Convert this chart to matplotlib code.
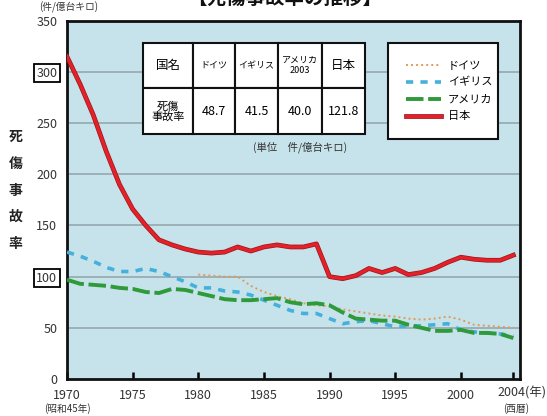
import matplotlib
matplotlib.use("Agg")
import matplotlib.pyplot as plt
import matplotlib.patheffects as pe
import matplotlib.transforms as mtransforms

plt.rcParams['font.family'] = ['Noto Sans CJK JP', 'DejaVu Sans']

# --- data (件/億台キロ) ---
years = list(range(1970, 2005))
japan = [315, 288, 258, 222, 190, 166, 150, 136, 131, 127,
         124, 123, 124, 129, 125, 129, 131, 129, 129, 132,
         100, 98, 101, 108, 104, 108, 102, 104, 108, 114,
         119, 117, 116, 116, 121]
uk = [124, 120, 115, 109, 105, 105, 108, 105, 100, 95,
      89, 89, 86, 85, 82, 77, 72, 67, 64, 64,
      59, 54, 56, 57, 54, 51, 52, 52, 53, 54,
      48, 46, 45, 44, 42]
usa = [97, 93, 92, 91, 89, 88, 85, 84, 88, 87,
       84, 81, 78, 77, 77, 78, 79, 75, 73, 74,
       72, 65, 59, 58, 57, 57, 53, 50, 47, 47,
       48, 45, 45, 44, 40]
germany_years = list(range(1980, 2005))
germany = [102, 101, 100, 100, 91, 85, 81, 78, 74, 72,
           71, 68, 66, 64, 62, 61, 59, 58, 59, 61,
           58, 53, 52, 51, 50]

table_cols = ['国名', 'ドイツ', 'イギリス', 'アメリカ\n2003', '日本']
table_vals = ['死傷\n事故率', '48.7', '41.5', '40.0', '121.8']
legend_labels = ['ドイツ', 'イギリス', 'アメリカ', '日本']

fig = plt.figure(figsize=(5.47, 4.16), dpi=100)
ax = fig.add_axes([0.1225, 0.089, 0.828, 0.861])
ax.set_facecolor('#c6e3eb')

# gridlines
for v in range(50, 350, 50):
    ax.axhline(v, color='#95a9ae', lw=1.2, zorder=1)

l_de, = ax.plot(germany_years, germany, color='#e39a55', lw=1.4,
                linestyle=(0, (1, 1.6)), zorder=3)
l_uk, = ax.plot(years, uk, color='#45b0dc', lw=2.6,
                linestyle=(0, (2, 2)), zorder=3)
l_us, = ax.plot(years, usa, color='#2f9a3a', lw=2.8,
                linestyle=(0, (4.5, 1.2)), zorder=4)
l_jp, = ax.plot(years, japan, color='#e4202a', lw=2.4, zorder=5,
                path_effects=[pe.Stroke(linewidth=3.4, foreground='#9a1818'), pe.Normal()])

ax.set_xlim(1970, 2004.5)
ax.set_ylim(0, 350)

for s in ax.spines.values():
    s.set_linewidth(2)
    s.set_color('#111111')

ax.set_yticks(range(0, 351, 50))
ax.set_yticklabels([str(v) for v in range(0, 351, 50)])
ax.tick_params(axis='y', length=0, pad=7, labelsize=9, labelcolor='#333333')
for lab in ax.get_yticklabels():
    if lab.get_text() in ('300', '100'):
        lab.set_bbox(dict(boxstyle='square,pad=0.2', fc='white', ec='black', lw=1.3))

xt = list(range(1970, 2001, 5)) + [2004]
ax.set_xticks(xt)
ax.set_xticklabels([str(y) for y in range(1970, 2001, 5)] + [''])
ax.tick_params(axis='x', direction='in', length=5, width=1.8, pad=7,
               labelsize=9, labelcolor='#333333')

trans = mtransforms.blended_transform_factory(ax.transData, ax.transAxes)
ax.text(2002.8, -0.021, '2004(年)', transform=trans, ha='left', va='top',
        fontsize=9, color='#333333', clip_on=False)
ax.text(1970, -0.066, '(昭和45年)', transform=trans, ha='center', va='top',
        fontsize=7, color='#333333', clip_on=False)
ax.text(2004.2, -0.066, '(西暦)', transform=trans, ha='center', va='top',
        fontsize=7, color='#333333', clip_on=False)

# title (cut off at top), unit and y label
fig.text(0.52, 1.003, '【死傷事故率の推移】', ha='center', va='center',
         fontsize=14, fontweight='bold', color='#111111')
fig.text(0.125, 0.982, '(件/億台キロ)', ha='center', va='center',
         fontsize=7, color='#333333')
for i, ch in enumerate('死傷事故率'):
    fig.text(0.028, 0.67 - i * 0.064, ch, ha='center', va='center',
             fontsize=10, fontweight='bold', color='#222222')

# table
tbl = ax.table(cellText=[table_cols, table_vals], cellLoc='center',
               colWidths=[50, 42, 43, 44, 43],
               bbox=[0.168, 0.684, 0.49, 0.2545], zorder=6)
tbl.auto_set_font_size(False)
for (r, c), cell in tbl.get_celld().items():
    cell.set_facecolor('white')
    cell.set_edgecolor('#111111')
    cell.set_linewidth(1.5)
    txt = cell.get_text()
    if r == 0 and c in (1, 2, 3):
        txt.set_fontsize(6.5)
    elif r == 1 and c == 0:
        txt.set_fontsize(8)
        txt.set_linespacing(0.95)
    else:
        txt.set_fontsize(9)
ax.text(0.515, 0.648, '(単位　件/億台キロ)', transform=ax.transAxes,
        ha='center', va='center', fontsize=7.5, color='#333333')

leg = ax.legend([l_de, l_uk, l_us, l_jp], legend_labels,
                loc='upper left', bbox_to_anchor=(0.709, 0.9385, 0.242, 0.0),
                mode='expand', fontsize=8, frameon=True, fancybox=False,
                edgecolor='#111111', borderpad=1.6, labelspacing=0.62,
                handlelength=3.2, handletextpad=0.6, borderaxespad=0)
leg.get_frame().set_linewidth(1.5)
leg.get_frame().set_facecolor('white')
leg.get_frame().set_alpha(1)
leg.set_zorder(7)

fig.savefig('out.png', dpi=100)
